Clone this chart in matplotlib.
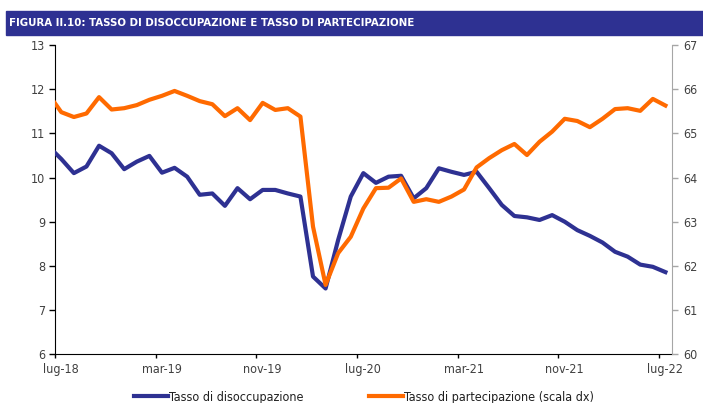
import matplotlib
matplotlib.use("Agg")
import matplotlib.pyplot as plt
from matplotlib.lines import Line2D

# Monthly data, giu-18 .. lug-22 (first month only enters the plot at the left edge)
mesi = ["gen", "feb", "mar", "apr", "mag", "giu",
        "lug", "ago", "set", "ott", "nov", "dic"]
start_year, start_month = 2018, 6   # giu-18

disoccupazione = [
    10.70, 10.42, 10.10, 10.25, 10.72, 10.55, 10.19, 10.36, 10.49, 10.11,
    10.22, 10.02, 9.61, 9.64, 9.36, 9.76, 9.51, 9.72, 9.72, 9.64,
    9.57, 7.76, 7.49, 8.59, 9.57, 10.10, 9.88, 10.02, 10.04, 9.53,
    9.76, 10.21, 10.13, 10.06, 10.13, 9.76, 9.38, 9.13, 9.10, 9.04,
    9.15, 9.00, 8.81, 8.68, 8.53, 8.32, 8.21, 8.03, 7.98, 7.86,
]
partecipazione = [
    65.88, 65.48, 65.37, 65.45, 65.82, 65.54, 65.57, 65.64, 65.76, 65.85,
    65.96, 65.85, 65.73, 65.66, 65.39, 65.57, 65.30, 65.69, 65.53, 65.57,
    65.38, 62.89, 61.57, 62.29, 62.66, 63.30, 63.76, 63.77, 63.98, 63.45,
    63.51, 63.45, 63.57, 63.73, 64.23, 64.44, 64.62, 64.76, 64.51, 64.81,
    65.04, 65.33, 65.28, 65.14, 65.33, 65.55, 65.57, 65.51, 65.78, 65.63,
]

n = len(disoccupazione)
x = list(range(-1, n - 1))           # index 0 = lug-18
labels = []
for i in range(n):
    m = (start_month - 1 + i) % 12
    y = start_year + (start_month - 1 + i) // 12
    labels.append(f"{mesi[m]}-{str(y)[2:]}")
labels = labels[1:]                   # categories shown on the axis

BLUE = "#2e3192"
ORANGE = "#ff6a00"
TXT = "#404040"

plt.rcParams["font.family"] = ["DejaVu Sans"]
plt.rcParams["font.stretch"] = "condensed"

fig = plt.figure(figsize=(7.03, 4.03), dpi=100)

# title bar
fig.patches.append(plt.Rectangle((6 / 703, 1 - 35 / 403), 697 / 703, 24 / 403,
                                 transform=fig.transFigure, color="#2e3192",
                                 zorder=0))
fig.text(9 / 703, 1 - 23.5 / 403,
         "FIGURA II.10: TASSO DI DISOCCUPAZIONE E TASSO DI PARTECIPAZIONE",
         color="white", fontsize=8.2, fontweight="bold", fontstretch="condensed",
         va="center", ha="left")

ax = fig.add_axes([55 / 703, 1 - 354.3 / 403, 616.7 / 703, 309.3 / 403])
ax2 = ax.twinx()

ax.plot(x, disoccupazione, color=BLUE, lw=3.0, solid_joinstyle="round",
        zorder=3, clip_on=True)
ax2.plot(x, partecipazione, color=ORANGE, lw=3.0, solid_joinstyle="round",
         zorder=3, clip_on=True)

ax.set_xlim(-0.5, n - 1.5)
ax.set_ylim(6, 13)
ax2.set_ylim(60, 67)
ax.set_yticks(range(6, 14))
ax2.set_yticks(range(60, 68))

# ticks on category boundaries, labels on category centres
lab_pos = list(range(0, n - 1, 8))
ax.set_xticks([p - 0.5 for p in lab_pos])
ax.set_xticklabels([])
ax.set_xticks(lab_pos, minor=True)
ax.set_xticklabels([labels[p] for p in lab_pos], minor=True)
ax.tick_params(axis="x", which="major", direction="out", length=3, width=1,
               color="black")
ax.tick_params(axis="x", which="minor", length=0, pad=6, labelsize=9,
               labelcolor=TXT)

ax.tick_params(axis="y", direction="out", length=4, width=1, color="black",
               labelsize=9, labelcolor=TXT, pad=3)
ax2.tick_params(axis="y", direction="out", length=4, width=1, color="#a6a6a6",
                labelsize=9, labelcolor=TXT, pad=4)

for s in ["top", "right"]:
    ax.spines[s].set_visible(False)
ax2.spines["top"].set_visible(False)
ax2.spines["left"].set_visible(False)
ax2.spines["bottom"].set_visible(False)
ax2.spines["right"].set_color("#a6a6a6")
ax.spines["left"].set_color("black")
ax.spines["bottom"].set_color("black")

handles = [Line2D([], [], color=BLUE, lw=3),
           Line2D([], [], color=ORANGE, lw=3)]
fig.legend(handles, ["Tasso di disoccupazione",
                     "Tasso di partecipazione (scala dx)"],
           loc="center", bbox_to_anchor=(364 / 703, 6 / 403), ncol=2,
           frameon=False, fontsize=9, handlelength=2.7, handletextpad=0.1,
           columnspacing=5.2, labelcolor="#202020")

fig.savefig("out.png", dpi=100)
